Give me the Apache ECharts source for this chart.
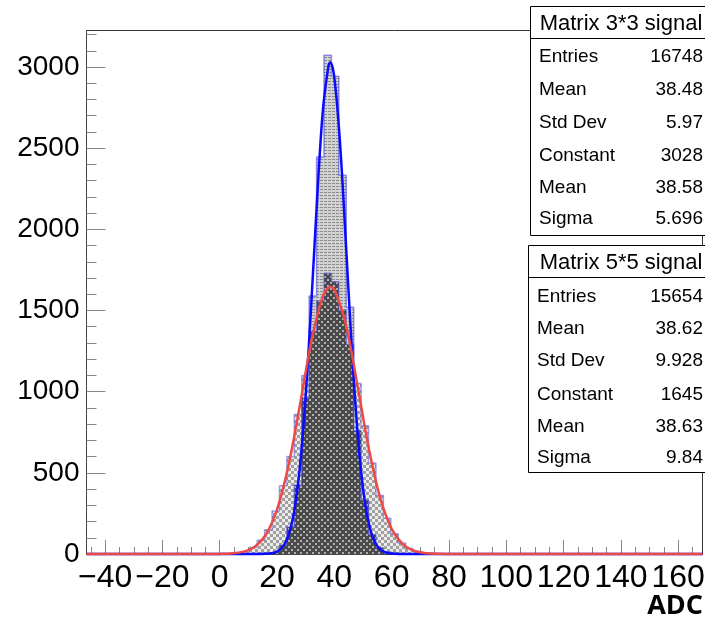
<!DOCTYPE html>
<html>
<head>
<meta charset="utf-8">
<script src="https://cdn.jsdelivr.net/npm/echarts@6/dist/echarts.min.js"></script>
<style>
  html, body { margin: 0; padding: 0; background: #fff; }
  #chart { width: 705px; height: 621px; }
</style>
</head>
<body>
<div id="chart"></div>
<script>
// histogram: 83 bins from -46.5 to 168.5 ADC
const binCount = 83;
const xMin = -46.5, xMax = 168.5;
const yMax = 3225;

// Matrix 3*3 signal, bins 18..48
const firstBin33 = 18;
const counts33 = [1, 1, 2, 2, 3, 4, 6, 16, 52, 165, 425, 960, 1590, 2445, 3073, 2943,
  2334, 1520, 760, 330, 118, 38, 12, 5, 3, 2, 2, 1, 1, 1, 1];

// Matrix 5*5 signal, bins 16..48
const firstBin55 = 16;
const counts55 = [1, 1, 2, 4, 9, 20, 42, 85, 150, 265, 420, 600, 860, 1100, 1370, 1560,
  1730, 1677, 1500, 1290, 1050, 790, 560, 360, 220, 125, 68, 34, 16, 7, 3, 2, 1];

// gaussian fits
const fit33X = [-46.5, 14, 16, 18, 20, 22, 24, 26, 28, 30, 32, 34, 36, 38, 38.58, 40, 42, 44,
  46, 48, 50, 52, 54, 56, 58, 60, 62, 64, 168.5];
const fit33Y = [0, 0.3, 1.2, 4.4, 15, 44, 114, 264, 540, 974, 1554, 2191, 2733, 3012, 3028, 2935,
  2529, 1926, 1296, 771, 406, 189, 78, 28, 9, 2.6, 0.7, 0.1, 0];
const fit55X = [-46.5, -2, 0, 4, 8, 12, 16, 20, 24, 28, 32, 36, 38.63, 40, 44, 48, 52, 56, 60,
  64, 68, 72, 76, 80, 84, 168.5];
const fit55Y = [0, 0.3, 0.7, 3.4, 13, 42, 117, 274, 545, 918, 1311, 1587, 1645, 1629, 1417,
  1045, 654, 346, 156, 59, 19, 5.2, 1.2, 0.2, 0.05, 0];

const xMajor = [-40, -20, 0, 20, 40, 60, 80, 100, 120, 140, 160];
const xMinor = [-45, -35, -30, -25, -15, -10, -5, 5, 10, 15, 25, 30, 35, 45, 50, 55, 65, 70, 75,
  85, 90, 95, 105, 110, 115, 125, 130, 135, 145, 150, 155, 165];
const yMajor = [0, 500, 1000, 1500, 2000, 2500, 3000];
const yMinor = [100, 200, 300, 400, 600, 700, 800, 900, 1100, 1200, 1300, 1400, 1600, 1700,
  1800, 1900, 2100, 2200, 2300, 2400, 2600, 2700, 2800, 2900, 3100, 3200];

const stats33 = [['Entries', '16748'], ['Mean', '38.48'], ['Std Dev', '5.97'],
  ['Constant', '3028'], ['Mean', '38.58'], ['Sigma', '5.696']];
const stats55 = [['Entries', '15654'], ['Mean', '38.62'], ['Std Dev', '9.928'],
  ['Constant', '1645'], ['Mean', '38.63'], ['Sigma', '9.84']];

function fullBins(start, counts) {
  const out = new Array(binCount).fill(0);
  counts.forEach((c, i) => { out[start + i] = c; });
  return out;
}
const bins33 = fullBins(firstBin33, counts33);
const bins55 = fullBins(firstBin55, counts55);
// where both histograms are filled
const binsBoth = bins33.map((v, i) => Math.min(v, bins55[i]));
const binNames = [];
for (let i = 0; i < binCount; i++) binNames.push(String(i));

function makePattern(w, h, draw) {
  const c = document.createElement('canvas');
  c.width = w; c.height = h;
  draw(c.getContext('2d'));
  return c;
}
// 3*3 only: light grey with dotted rows
const pat33 = makePattern(4, 3, (ctx) => {
  ctx.fillStyle = '#d2d2d2';
  ctx.fillRect(0, 0, 4, 3);
  ctx.fillStyle = '#8c8c8c';
  ctx.fillRect(0, 0, 3, 1);
});
// 5*5 only: light checker
const pat55 = makePattern(6, 6, (ctx) => {
  ctx.fillStyle = '#ececec';
  ctx.fillRect(0, 0, 6, 6);
  ctx.fillStyle = '#a0a0a0';
  ctx.fillRect(0, 0, 3, 3);
  ctx.fillRect(3, 3, 3, 3);
});
// overlap: dark with light dots
const patBoth = makePattern(6, 6, (ctx) => {
  ctx.fillStyle = '#4a4a4a';
  ctx.fillRect(0, 0, 6, 6);
  ctx.fillStyle = '#b0b0b0';
  ctx.fillRect(0, 0, 2, 2);
  ctx.fillRect(3, 3, 2, 2);
});

const font = 'Liberation Sans, Arial, Helvetica, sans-serif';

function statBox(x, y, h, sepY, title, rows, rowYs, labelX) {
  const els = [
    { type: 'rect', shape: { x: x, y: y, width: 220, height: h },
      style: { fill: '#fff', stroke: '#000', lineWidth: 1 } },
    { type: 'line', shape: { x1: x, y1: sepY, x2: 705, y2: sepY },
      style: { stroke: '#000', lineWidth: 1 } },
    { type: 'text', x: 621, y: (y + sepY) / 2 + 1,
      style: { text: title, font: '22px ' + font, fill: '#000',
        textAlign: 'center', textVerticalAlign: 'middle', align: 'center', verticalAlign: 'middle' } }
  ];
  rows.forEach((r, i) => {
    els.push({ type: 'text', x: labelX, y: rowYs[i],
      style: { text: r[0], font: '19px ' + font, fill: '#000',
        textAlign: 'left', textVerticalAlign: 'middle', align: 'left', verticalAlign: 'middle' } });
    els.push({ type: 'text', x: 703, y: rowYs[i],
      style: { text: r[1], font: '19px ' + font, fill: '#000',
        textAlign: 'right', textVerticalAlign: 'middle', align: 'right', verticalAlign: 'middle' } });
  });
  return { type: 'group', z: 100, children: els };
}

function histArea(name, data, pattern, z) {
  return {
    name: name, type: 'line', xAxisIndex: 2, yAxisIndex: 0,
    step: 'middle', symbol: 'none', data: data,
    lineStyle: { width: 0, opacity: 0 },
    areaStyle: { color: { image: pattern, repeat: 'repeat' }, opacity: 1 },
    z: z
  };
}
function histLine(name, data, color, z) {
  return {
    name: name, type: 'line', xAxisIndex: 2, yAxisIndex: 0,
    step: 'middle', symbol: 'none', data: data,
    lineStyle: { color: color, width: 1.5 }, z: z
  };
}

const chart = echarts.init(document.getElementById('chart'), null, { renderer: 'canvas' });

const option = {
  animation: false,
  backgroundColor: '#fff',
  grid: {
    left: 86.5, right: 2.5, top: 30.5, bottom: 67,
    show: true, borderColor: '#333', borderWidth: 1,
    containLabel: false, outerBoundsMode: 'none'
  },
  xAxis: [
    {
      type: 'value', min: xMin, max: xMax, position: 'bottom',
      axisLine: { show: true, onZero: false, lineStyle: { color: '#444' } },
      axisTick: { show: true, inside: true, length: 14, customValues: xMajor,
        lineStyle: { color: '#888' } },
      axisLabel: { customValues: xMajor, fontSize: 32, fontFamily: font, color: '#000', margin: 8,
        showMinLabel: true, showMaxLabel: true, hideOverlap: false,
        formatter: (v) => (v < 0 ? '\u2212' + Math.abs(v) : String(v)) },
      splitLine: { show: false }
    },
    {
      type: 'value', min: xMin, max: xMax, position: 'bottom',
      axisLine: { show: false, onZero: false },
      axisTick: { show: true, inside: true, length: 7, customValues: xMinor,
        lineStyle: { color: '#888' } },
      axisLabel: { show: false },
      splitLine: { show: false }
    },
    {
      type: 'category', data: binNames, boundaryGap: true, show: false, position: 'bottom',
      axisLine: { onZero: false }
    }
  ],
  yAxis: [
    {
      type: 'value', min: 0, max: yMax, position: 'left',
      axisLine: { show: true, onZero: false, lineStyle: { color: '#444' } },
      axisTick: { show: true, inside: true, length: 19, customValues: yMajor,
        lineStyle: { color: '#888' } },
      axisLabel: { customValues: yMajor, fontSize: 28, fontFamily: font, color: '#000', margin: 7,
        showMinLabel: true, hideOverlap: false, formatter: (v) => String(v) },
      splitLine: { show: false }
    },
    {
      type: 'value', min: 0, max: yMax, position: 'left',
      axisLine: { show: false, onZero: false },
      axisTick: { show: true, inside: true, length: 10, customValues: yMinor,
        lineStyle: { color: '#888' } },
      axisLabel: { show: false },
      splitLine: { show: false }
    }
  ],
  series: [
    histArea('Matrix 3*3 signal', bins33, pat33, 2),
    histArea('Matrix 5*5 signal', bins55, pat55, 2),
    histArea('overlap', binsBoth, patBoth, 3),
    histLine('Matrix 3*3 outline', bins33, 'rgba(60,60,220,0.55)', 4),
    histLine('Matrix 5*5 outline', bins55, 'rgba(70,70,220,0.5)', 4),
    {
      name: 'fit 3*3', type: 'line', xAxisIndex: 0, yAxisIndex: 0,
      data: fit33X.map((x, i) => [x, fit33Y[i]]),
      smooth: 0.35, symbol: 'none', clip: false,
      lineStyle: { color: '#0a0aff', width: 2.5 }, z: 5
    },
    {
      name: 'fit 5*5', type: 'line', xAxisIndex: 0, yAxisIndex: 0,
      data: fit55X.map((x, i) => [x, fit55Y[i]]),
      smooth: 0.35, symbol: 'none', clip: false,
      lineStyle: { color: '#ec4a44', width: 2.5 }, z: 6
    }
  ],
  graphic: [
    statBox(530.5, 6.5, 229, 38.5, 'Matrix 3*3 signal', stats33,
      [57, 90, 123, 156, 188, 219], 539),
    statBox(528.5, 245.5, 227, 277.5, 'Matrix 5*5 signal', stats55,
      [297, 329, 361, 395, 427, 458], 537),
    { type: 'text', x: 703, y: 606, z: 100,
      style: { text: 'ADC', font: 'bold 27px "Open Sans", ' + font, fill: '#000',
        textAlign: 'right', textVerticalAlign: 'middle', align: 'right', verticalAlign: 'middle' } }
  ]
};

chart.setOption(option);
</script>
</body>
</html>
